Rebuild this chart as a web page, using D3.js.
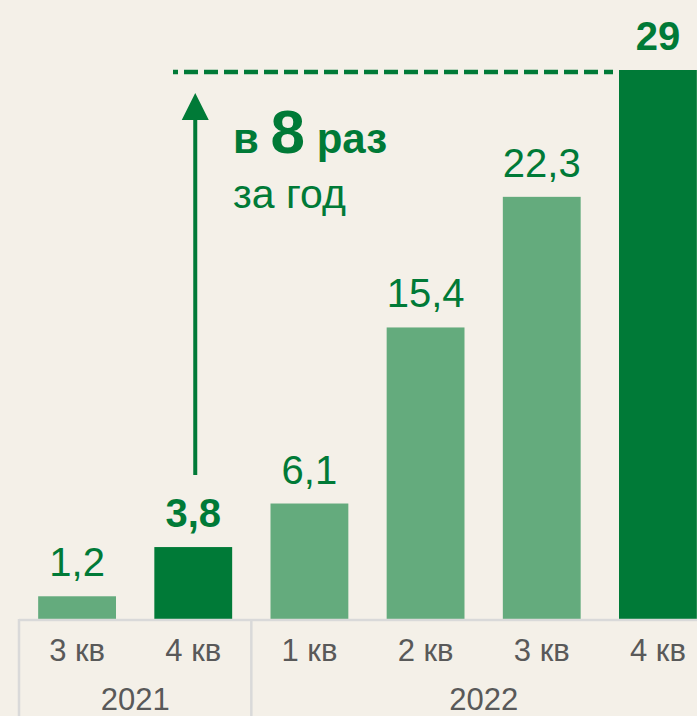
<!DOCTYPE html>
<html>
<head>
<meta charset="utf-8">
<script src="https://cdn.jsdelivr.net/npm/d3@7"></script>
<style>
    body { margin: 0; background: #f4f0e8; }
    svg { display: block; font-family: "Liberation Sans", Arial, sans-serif; }
</style>
</head>
<body>
<div id="chart"></div>
<script>
// data
const quarters = ["3 кв", "4 кв", "1 кв", "2 кв", "3 кв", "4 кв"]
const values = [1.2, 3.8, 6.1, 15.4, 22.3, 29]
const highlight = [false, true, false, false, false, true]
const years = ["2021", "2022"]
const yearSpan = [2, 4] // how many quarters each year covers
const noteBig = "8"

const width = 697
const height = 716
const baseY = 619

const DARK = "#007a37"
const LIGHT = "#64ab7d"
const GRID = "#d9d9d9"
const TEXT = "#595959"

const fmt = d3.formatLocale({ decimal: ",", thousands: " ", grouping: [3], currency: ["", ""] }).format("~g")

const svg = d3.select('#chart')
    .append('svg')
    .attr('width', width)
    .attr('height', height)

svg.append("rect")
    .attr("width", width)
    .attr("height", height)
    .attr("fill", "#f4f0e8")

const idx = d3.range(values.length)
const xScale = d3.scaleBand()
    .domain(idx)
    .range([19, 716])
    .paddingInner(0.33)
    .paddingOuter(0.165)
const yScale = d3.scaleLinear().domain([0, 29]).range([baseY, 70])

const step = xScale.step()
const x0 = xScale.range()[0]

//bars
svg.selectAll(".bar")
    .data(idx)
    .enter()
    .append("rect")
    .attr("class", "bar")
    .attr("x", i => xScale(i))
    .attr("y", i => yScale(values[i]))
    .attr("width", xScale.bandwidth())
    .attr("height", i => baseY - yScale(values[i]))
    .attr("fill", i => highlight[i] ? DARK : LIGHT)

//value labels
svg.selectAll(".val")
    .data(idx)
    .enter()
    .append("text")
    .attr("class", "val")
    .attr("x", i => xScale(i) + xScale.bandwidth() / 2)
    .attr("y", i => yScale(values[i]) - 20)
    .attr("text-anchor", "middle")
    .style("font-size", "40px")
    .style("font-weight", i => highlight[i] ? "bold" : "normal")
    .attr("fill", DARK)
    .text(i => fmt(values[i]))

//axis lines
svg.append("line")
    .attr("x1", x0).attr("x2", width)
    .attr("y1", baseY + 1).attr("y2", baseY + 1)
    .attr("stroke", GRID).attr("stroke-width", 2.5)

let acc = 0
const bounds = [0]
yearSpan.forEach(n => { acc += n; bounds.push(acc) })
bounds.slice(0, -1).forEach(b => {
    svg.append("line")
        .attr("x1", x0 + b * step).attr("x2", x0 + b * step)
        .attr("y1", baseY).attr("y2", height)
        .attr("stroke", GRID).attr("stroke-width", 2.5)
})

//quarter labels
svg.selectAll(".q")
    .data(idx)
    .enter()
    .append("text")
    .attr("class", "q")
    .attr("x", i => xScale(i) + xScale.bandwidth() / 2)
    .attr("y", 661)
    .attr("text-anchor", "middle")
    .style("font-size", "31px")
    .attr("fill", TEXT)
    .text(i => quarters[i])

//year labels
years.forEach((yr, k) => {
    svg.append("text")
        .attr("x", x0 + (bounds[k] + bounds[k + 1]) / 2 * step)
        .attr("y", 710)
        .attr("text-anchor", "middle")
        .style("font-size", "31px")
        .attr("fill", TEXT)
        .text(yr)
})

//dashed reference line at last value
svg.append("line")
    .attr("x1", 173)
    .attr("x2", xScale(5) - 6)
    .attr("y1", yScale(29) + 2)
    .attr("y2", yScale(29) + 2)
    .attr("stroke", DARK)
    .attr("stroke-width", 4.5)
    .attr("stroke-dasharray", "14 6")
    .attr("stroke-dashoffset", 9)

//arrow from 4 кв 2021 up
const ax = xScale(1) + xScale.bandwidth() / 2 + 2
const tipY = yScale(29) + 23
svg.append("line")
    .attr("x1", ax).attr("x2", ax)
    .attr("y1", yScale(values[1]) - 72)
    .attr("y2", tipY + 20)
    .attr("stroke", DARK)
    .attr("stroke-width", 4)
svg.append("path")
    .attr("d", `M${ax},${tipY} L${ax - 13.5},${tipY + 27} L${ax + 13.5},${tipY + 27} Z`)
    .attr("fill", DARK)

//annotation
const note = svg.append("text")
    .attr("x", 233)
    .attr("y", 153)
    .attr("fill", DARK)
    .style("font-weight", "bold")
    .style("font-size", "42px")
note.append("tspan").text("в ")
note.append("tspan").style("font-size", "62px").text(noteBig)
note.append("tspan").text(" раз")

svg.append("text")
    .attr("x", 233)
    .attr("y", 208)
    .attr("fill", DARK)
    .style("font-size", "41px")
    .text("за год")
</script>
</body>
</html>
